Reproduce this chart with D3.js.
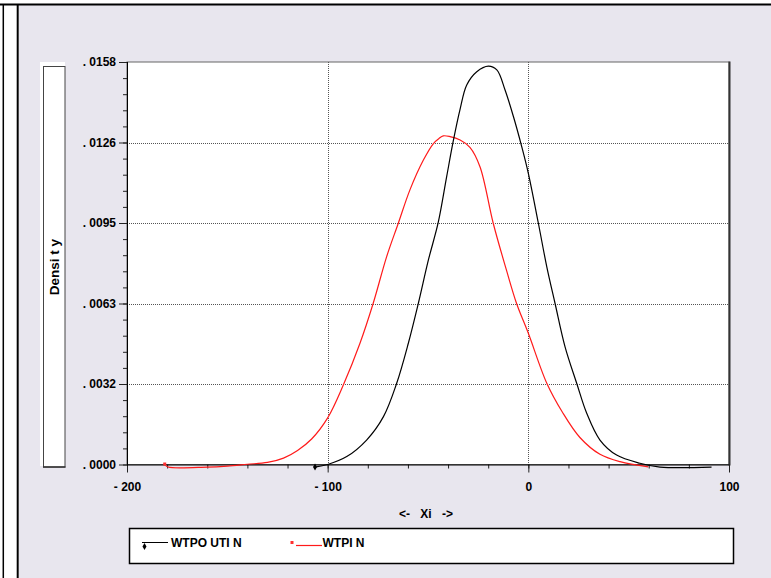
<!DOCTYPE html>
<html><head><meta charset="utf-8">
<script src="https://cdn.jsdelivr.net/npm/d3@7/dist/d3.min.js"></script>
<style>
body{margin:0;background:#fff;}
text{font-family:"Liberation Sans",Arial,sans-serif;font-weight:bold;font-size:12px;fill:#000;}
</style></head>
<body>
<svg id="c" width="771" height="578"></svg>
<script>
// ---- data ----
const seriesNames = ["WTPO UTI N", "WTPI N"];
const outX = [-106.3,-100,-90.5,-80.6,-72.2,-65.6,-59.8,-54.8,-49.8,-44.9,-40.7,-37.4,-34,-30.7,-25.7,-19.9,-15.7,-11.6,-7.4,-3.3,0,5,9.2,13.3,18.3,24.1,29.1,35.7,44,55.6,65.6,91.3];
const outY = [-0.0001,0.0000,0.00031,0.00096,0.00188,0.00319,0.00476,0.00633,0.00803,0.00950,0.01130,0.01270,0.01395,0.01490,0.01542,0.01564,0.01549,0.01470,0.01365,0.01248,0.01143,0.00947,0.00776,0.00633,0.00462,0.00319,0.00201,0.00096,0.00037,0.00005,-0.0001,-0.0001];
const inX = [-181.2,-179.5,-160,-150,-140,-130,-122,-115,-108,-100,-92.2,-83.9,-77.3,-70.6,-64.8,-59,-52.3,-47.3,-44.5,-42.4,-39,-34,-29.1,-24.1,-17.5,-10.9,-5.9,0,9.2,17,25.7,35.7,45.7,59.8];
const inY = [0.0000,-0.0001,-0.0001,-0.00006,0.00001,0.00008,0.00025,0.00055,0.00100,0.00183,0.00312,0.00476,0.00633,0.00816,0.00947,0.01078,0.01195,0.01260,0.01280,0.01290,0.01287,0.01274,0.01245,0.01169,0.00947,0.00763,0.00633,0.00515,0.00319,0.00205,0.00106,0.0004,0.00011,-0.00009];
const yTickValues = [0, 0.00316, 0.00632, 0.00948, 0.01264, 0.0158];
const yTickLabels = [". 0000", ". 0032", ". 0063", ". 0095", ". 0126", ". 0158"];
const xTickValues = [-200, -100, 0, 100];
const xTickLabels = ["- 200", "- 100", "0", "100"];
const xTitle = "<- Xi ->";
const yTitle = "Densi t y";

// ---- layout ----
const svg = d3.select("#c");
const L = 127, R = 729, T = 62, B = 464.5;
const x = d3.scaleLinear().domain([-200, 100]).range([L, R]);
const y = d3.scaleLinear().domain([0, 0.0158]).range([B, T]);

// outer frame
svg.append("rect").attr("x",19).attr("y",5).attr("width",752).attr("height",573).attr("fill","#e8e6ee");
svg.append("line").attr("x1",0).attr("x2",771).attr("y1",4.5).attr("y2",4.5).attr("stroke","#000").attr("stroke-width",2);
svg.append("line").attr("x1",3.3).attr("x2",3.3).attr("y1",4).attr("y2",578).attr("stroke","#000").attr("stroke-width",1.5);
svg.append("line").attr("x1",17.7).attr("x2",17.7).attr("y1",4).attr("y2",578).attr("stroke","#000").attr("stroke-width",2);

// density label box
svg.append("rect").attr("x",40).attr("y",62).attr("width",25).attr("height",404).attr("fill","#fff");
svg.append("rect").attr("x",43.5).attr("y",66.5).attr("width",21.5).attr("height",400.5).attr("fill","#fff").attr("stroke","#444").attr("stroke-width",1);
svg.append("line").attr("x1",43).attr("x2",65.5).attr("y1",467).attr("y2",467).attr("stroke","#333").attr("stroke-width",1.5);
svg.append("text").attr("transform","translate(59,267) rotate(-90)").attr("text-anchor","middle")
  .style("font-size","13.5px").text(yTitle);

// plot area
svg.append("rect").attr("x",L).attr("y",T).attr("width",R-L).attr("height",B-T).attr("fill","#fff").attr("stroke","#666").attr("stroke-width",1);
svg.append("line").attr("x1",R+0.5).attr("x2",R+0.5).attr("y1",T-0.5).attr("y2",B+1).attr("stroke","#333").attr("stroke-width",2);

// gridlines
const g = svg.append("g");
g.selectAll(".gx").data(xTickValues.filter(v => v > -200 && v < 100)).enter().append("line")
  .attr("x1",d=>Math.round(x(d))+0.5).attr("x2",d=>Math.round(x(d))+0.5).attr("y1",T).attr("y2",B)
  .attr("stroke","#555").attr("stroke-width",1).attr("stroke-dasharray","1,1");
g.selectAll(".gy").data(yTickValues.filter(v => v > 0 && v < 0.0158)).enter().append("line")
  .attr("y1",d=>Math.round(y(d))+0.5).attr("y2",d=>Math.round(y(d))+0.5).attr("x1",L).attr("x2",R)
  .attr("stroke","#555").attr("stroke-width",1).attr("stroke-dasharray","1,1");

// axes
const minorY = d3.range(0, 26).map(i => i * 0.0158 / 25);
const minorX = d3.range(-200, 101, 20);
svg.append("g").attr("transform",`translate(${L},0)`)
  .call(d3.axisLeft(y).tickValues(minorY).tickSize(4).tickFormat(""))
  .call(s => { s.select(".domain").remove(); s.selectAll("line").attr("stroke","#222"); });
svg.append("g").attr("transform",`translate(${L},0)`)
  .call(d3.axisLeft(y).tickValues(yTickValues).tickSize(8).tickPadding(3).tickFormat((d,i)=>yTickLabels[i]))
  .call(s => { s.select(".domain").remove(); s.selectAll("line").attr("stroke","#222");
               s.selectAll("text").attr("font-family","Liberation Sans, Arial").attr("font-weight","bold").attr("fill","#000"); });
svg.append("g").attr("transform",`translate(0,${B})`)
  .call(d3.axisBottom(x).tickValues(minorX).tickSize(4).tickFormat(""))
  .call(s => { s.select(".domain").remove(); s.selectAll("line").attr("stroke","#222"); });
svg.append("g").attr("transform",`translate(0,${B})`)
  .call(d3.axisBottom(x).tickValues(xTickValues).tickSize(8).tickPadding(10).tickFormat((d,i)=>xTickLabels[i]))
  .call(s => { s.select(".domain").remove(); s.selectAll("line").attr("stroke","#222");
               s.selectAll("text").attr("font-family","Liberation Sans, Arial").attr("font-weight","bold").attr("fill","#000"); });
svg.append("line").attr("x1",L).attr("x2",R).attr("y1",B+0.5).attr("y2",B+0.5).attr("stroke","#000");
svg.append("line").attr("x1",L+0.5).attr("x2",L+0.5).attr("y1",T).attr("y2",B+1).attr("stroke","#000");

svg.append("text").attr("x",426).attr("y",518).attr("text-anchor","middle").attr("word-spacing",7).text(xTitle);

// curves
const line = d3.line().x(d=>x(d[0])).y(d=>y(d[1])).curve(d3.curveCatmullRom.alpha(0.5));
const outData = outX.map((v,i)=>[v,outY[i]]);
const inData = inX.map((v,i)=>[v,inY[i]]);
svg.append("path").datum(inData).attr("d",line).attr("fill","none").attr("stroke","#ff1a1a").attr("stroke-width",1.2);
svg.append("path").datum(outData).attr("d",line).attr("fill","none").attr("stroke","#000").attr("stroke-width",1.2);
// markers at first points
const diamond = d3.symbol().type(d3.symbolDiamond).size(14);
svg.append("path").attr("d",diamond).attr("transform",`translate(${x(outData[0][0])},${y(outData[0][1])})`).attr("fill","#000");
svg.append("rect").attr("x",x(inData[0][0])-1.5).attr("y",y(inData[0][1])-2).attr("width",3).attr("height",3).attr("fill","#ff3030");

// legend
svg.append("rect").attr("x",129.5).attr("y",528.5).attr("width",604).attr("height",35).attr("fill","#fff").attr("stroke","#000").attr("stroke-width",1.5);
svg.append("line").attr("x1",142).attr("x2",168).attr("y1",542.5).attr("y2",542.5).attr("stroke","#000").attr("stroke-width",1);
svg.append("path").attr("d",diamond).attr("transform","translate(144.5,546.5)").attr("fill","#000");
svg.append("text").attr("x",171).attr("y",547).text(seriesNames[0]);
svg.append("rect").attr("x",290.5).attr("y",541).attr("width",3).attr("height",3).attr("fill","#ff3030");
svg.append("line").attr("x1",296).attr("x2",322).attr("y1",545.5).attr("y2",545.5).attr("stroke","#ff1a1a").attr("stroke-width",1.2);
svg.append("text").attr("x",322.5).attr("y",547).text(seriesNames[1]);
</script>
</body></html>
